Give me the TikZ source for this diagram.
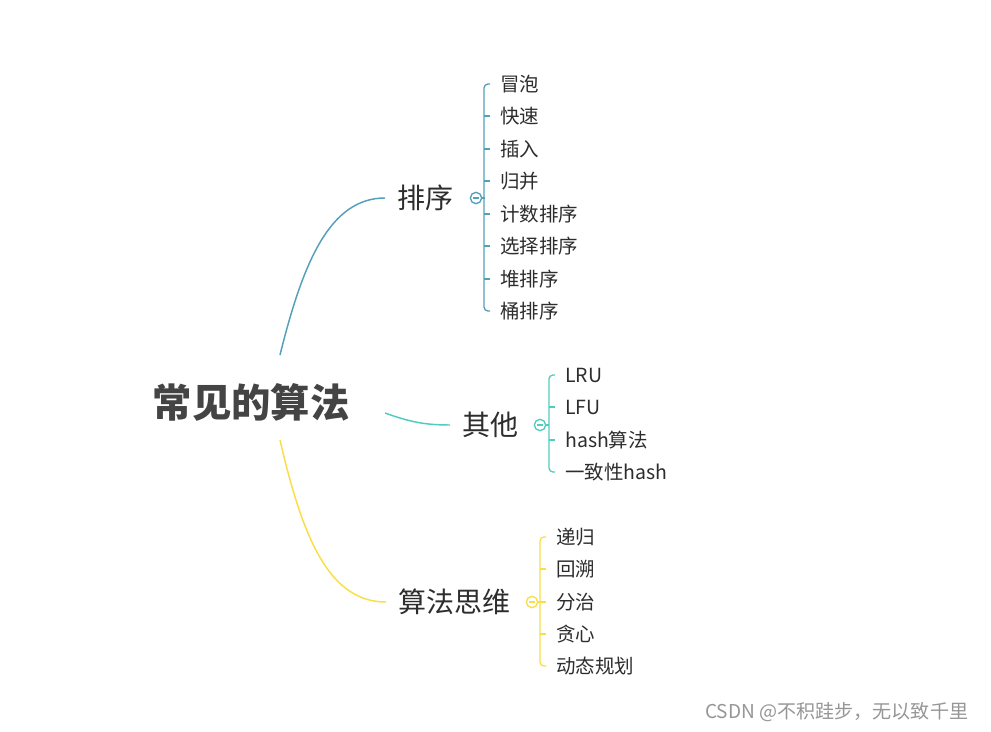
\documentclass[tikz,border=0pt]{standalone}
\usepackage{fontspec}
\setmainfont{Noto Sans CJK SC}
\definecolor{txt}{RGB}{45,45,45}
\definecolor{roottxt}{RGB}{68,68,68}
\definecolor{sortc}{RGB}{85,160,185}
\definecolor{otherc}{RGB}{80,205,190}
\definecolor{thinkc}{RGB}{250,222,70}
\definecolor{wmc}{RGB}{150,150,150}
\tikzset{
  rootnode/.style={text=roottxt, font=\fontsize{29.5pt}{33pt}\selectfont\bfseries, inner sep=0pt},
  branchnode/.style={text=txt, font=\fontsize{21pt}{24pt}\selectfont, anchor=west, inner xsep=9pt, inner ysep=0pt},
  leafnode/.style={text=txt, font=\fontsize{14.6pt}{17pt}\selectfont, anchor=west, inner xsep=7.5pt, inner ysep=0pt},
  togglec/.style={circle, draw=#1, fill=white, line width=1pt, minimum size=8.5pt, inner sep=0pt},
  edge/.style={line width=1.1pt},
  brk/.style={line width=1pt, rounded corners=3pt}
}
\begin{document}
\begin{tikzpicture}[x=0.75pt,y=-0.75pt]
\useasboundingbox (0,0) rectangle (991,731);
\fill[white] (0,0) rectangle (991,731);

% root
\node[rootnode] (root) at (251,402) {常见的算法};
\coordinate (r1) at (280,355);
\coordinate (r2) at (385,413);
\coordinate (r3) at (280,440);

% branches
\node[branchnode] (sort) at (385,198) {排序};
\node[branchnode] (other) at (450,425) {其他};
\node[branchnode] (think) at (386,602) {算法思维};

\draw[edge, sortc] (r1) .. controls (303,262) and (330,198) .. (sort.west);
\draw[edge, otherc] (r2) .. controls (410,422) and (425,425) .. (other.west);
\draw[edge, thinkc] (r3) .. controls (303,540) and (330,602) .. (think.west);

% sort children
\node[togglec=sortc] (sc) at (476,198) {};
\draw[sortc, line width=0.8pt] ([xshift=-2.2pt]sc.center) -- ([xshift=2.2pt]sc.center);
\node[leafnode] (s1) at (490,84) {冒泡};
\node[leafnode] (s2) at (490,116) {快速};
\node[leafnode] (s3) at (490,149) {插入};
\node[leafnode] (s4) at (490,181) {归并};
\node[leafnode] (s5) at (490,214) {计数排序};
\node[leafnode] (s6) at (490,246) {选择排序};
\node[leafnode] (s7) at (490,279) {堆排序};
\node[leafnode] (s8) at (490,311) {桶排序};
\draw[sortc, brk] (s1.west) -- ++(-6,0) |- (s8.west);
\foreach \n in {s2,s3,s4,s5,s6,s7} \draw[sortc, line width=1pt] (\n.west) -- ++(-6,0);
\draw[sortc, line width=1pt] (sc.east) -- ++(3,0);

% other children
\node[togglec=otherc] (oc) at (540,425) {};
\draw[otherc, line width=0.8pt] ([xshift=-2.2pt]oc.center) -- ([xshift=2.2pt]oc.center);
\node[leafnode] (o1) at (555,375) {LRU};
\node[leafnode] (o2) at (555,407) {LFU};
\node[leafnode] (o3) at (555,440) {hash算法};
\node[leafnode] (o4) at (555,472) {一致性hash};
\draw[otherc, brk] (o1.west) -- ++(-6,0) |- (o4.west);
\foreach \n in {o2,o3} \draw[otherc, line width=1pt] (\n.west) -- ++(-6,0);
\draw[otherc, line width=1pt] (oc.east) -- ++(3,0);

% think children
\node[togglec=thinkc] (tc) at (532,602) {};
\draw[thinkc, line width=0.8pt] ([xshift=-2.2pt]tc.center) -- ([xshift=2.2pt]tc.center);
\node[leafnode] (t1) at (546,537) {递归};
\node[leafnode] (t2) at (546,569) {回溯};
\node[leafnode] (t3) at (546,602) {分治};
\node[leafnode] (t4) at (546,634) {贪心};
\node[leafnode] (t5) at (546,666) {动态规划};
\draw[thinkc, brk] (t1.west) -- ++(-6,0) |- (t5.west);
\foreach \n in {t2,t3,t4} \draw[thinkc, line width=1pt] (\n.west) -- ++(-6,0);
\draw[thinkc, line width=1pt] (tc.east) -- ++(3,0);

% watermark
\node[anchor=west, text=wmc, font=\fontsize{14.3pt}{17pt}\selectfont, inner sep=0pt] (wm) at (705,712) {CSDN @不积跬步，无以致千里};
\end{tikzpicture}
\end{document}
